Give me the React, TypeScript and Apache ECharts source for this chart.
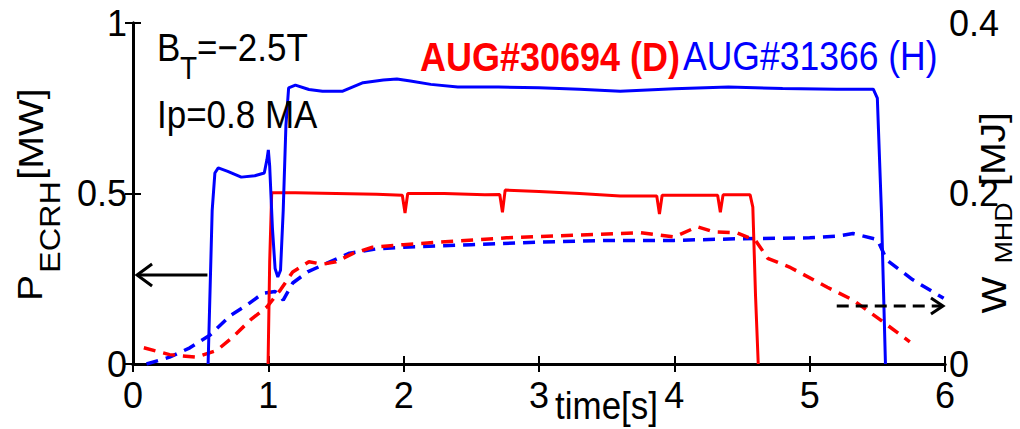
import React, { useEffect, useRef } from "react";
import * as echarts from "echarts";

// ECRH power, AUG#31366 (H) [MW]
const hPowerT = [0.555, 0.585, 0.605, 0.63, 0.7, 0.8, 0.9, 0.97, 0.99, 1.0, 1.01, 1.03, 1.05, 1.07, 1.09, 1.11, 1.13, 1.15, 1.2, 1.3, 1.4, 1.55, 1.7, 1.85, 1.95, 2.05, 2.2, 2.4, 2.7, 3.0, 3.3, 3.6, 4.0, 4.4, 4.8, 5.2, 5.47, 5.5, 5.53, 5.56];
const hPowerV = [0, 0.45, 0.56, 0.575, 0.565, 0.548, 0.552, 0.56, 0.6, 0.628, 0.58, 0.4, 0.28, 0.255, 0.275, 0.45, 0.7, 0.81, 0.818, 0.805, 0.8, 0.8, 0.825, 0.833, 0.836, 0.83, 0.82, 0.812, 0.812, 0.81, 0.806, 0.8, 0.807, 0.812, 0.808, 0.806, 0.806, 0.78, 0.45, 0];

// ECRH power, AUG#30694 (D) [MW]
const dPowerT = [0.998, 1.01, 1.025, 1.2, 1.5, 1.8, 1.99, 2.01, 2.03, 2.3, 2.6, 2.71, 2.73, 2.75, 3.0, 3.3, 3.6, 3.87, 3.89, 3.91, 4.1, 4.32, 4.34, 4.36, 4.5, 4.56, 4.58, 4.6, 4.62];
const dPowerV = [0, 0.3, 0.502, 0.502, 0.5, 0.498, 0.495, 0.443, 0.5, 0.5, 0.496, 0.497, 0.445, 0.51, 0.506, 0.5, 0.493, 0.493, 0.44, 0.495, 0.495, 0.495, 0.445, 0.496, 0.496, 0.496, 0.46, 0.2, 0];

// W_MHD, AUG#30694 (D) [MJ]
const dWT = [0.08, 0.27, 0.47, 0.62, 0.74, 0.87, 0.99, 1.09, 1.18, 1.3, 1.4, 1.5, 1.63, 1.77, 2.0, 2.27, 2.76, 3.25, 3.75, 4.0, 4.17, 4.29, 4.46, 4.6, 4.69, 4.86, 5.13, 5.32, 5.52, 5.74];
const dWV = [0.019, 0.011, 0.008, 0.016, 0.032, 0.052, 0.067, 0.087, 0.108, 0.12, 0.117, 0.12, 0.13, 0.137, 0.14, 0.143, 0.148, 0.151, 0.154, 0.149, 0.161, 0.155, 0.154, 0.145, 0.124, 0.113, 0.09, 0.075, 0.052, 0.026];

// W_MHD, AUG#31366 (H) [MJ]
const hWT = [0.1, 0.27, 0.42, 0.57, 0.72, 0.84, 0.96, 1.05, 1.11, 1.18, 1.29, 1.43, 1.6, 1.8, 2.0, 2.5, 3.0, 3.5, 4.0, 4.5, 5.0, 5.2, 5.32, 5.5, 5.57, 5.76, 5.99];
const hWV = [0.0, 0.008, 0.019, 0.034, 0.057, 0.069, 0.083, 0.085, 0.075, 0.095, 0.108, 0.118, 0.13, 0.135, 0.137, 0.14, 0.143, 0.145, 0.145, 0.147, 0.148, 0.15, 0.153, 0.146, 0.122, 0.099, 0.077];

// arrows: [x0, y0, x1(tip), y1]
const leftArrow = [0.55, 0.261, 0.03, 0.261]; // left axis units
const rightArrow = [5.2, 0.068, 5.985, 0.068]; // right axis units

const FONT = "'Liberation Sans', Arial, Helvetica, sans-serif";
const RED = "#ff0000";
const BLUE = "#0000ff";

const zip = (t: number[], v: number[]) => t.map((x, i) => [x, v[i]]);

export default function App() {
  const ref = useRef<HTMLDivElement>(null);
  useEffect(() => {
    const chart = echarts.init(ref.current!, null, { renderer: "svg" });
    const axisLine = { show: true, lineStyle: { color: "#000", width: 3 } };
    const tick = { show: true, inside: true, length: 8, lineStyle: { color: "#000", width: 2 } };
    const lbl = { color: "#000", fontSize: 36, fontFamily: FONT };
    chart.setOption({
      animation: false,
      backgroundColor: "#fff",
      grid: { left: 133, right: 75, top: 23, bottom: 65, containLabel: false },
      xAxis: [
        {
          type: "value", min: 0, max: 6, interval: 1, position: "bottom",
          axisLine, axisTick: tick, splitLine: { show: false },
          axisLabel: { ...lbl, margin: 13 },
        },
        {
          type: "value", min: 0, max: 6, interval: 1, position: "top",
          axisLine, axisTick: tick, splitLine: { show: false },
          axisLabel: { show: false },
        },
      ],
      yAxis: [
        {
          type: "value", min: 0, max: 1, interval: 0.5, position: "left",
          axisLine, axisTick: tick, splitLine: { show: false },
          axisLabel: { ...lbl, margin: 6 },
        },
        {
          type: "value", min: 0, max: 0.4, interval: 0.2, position: "right",
          axisLine, axisTick: tick, splitLine: { show: false },
          axisLabel: { ...lbl, margin: 4 },
        },
      ],
      series: [
        {
          name: "W_MHD H", type: "line", xAxisIndex: 0, yAxisIndex: 1, data: zip(hWT, hWV),
          symbol: "none", lineStyle: { color: BLUE, width: 3.5, type: [12, 8] }, z: 3,
        },
        {
          name: "W_MHD D", type: "line", xAxisIndex: 0, yAxisIndex: 1, data: zip(dWT, dWV),
          symbol: "none", lineStyle: { color: RED, width: 3.5, type: [12, 8] }, z: 4,
        },
        {
          name: "P_ECRH D", type: "line", xAxisIndex: 0, yAxisIndex: 0, data: zip(dPowerT, dPowerV),
          symbol: "none", lineStyle: { color: RED, width: 3 }, z: 5,
        },
        {
          name: "P_ECRH H", type: "line", xAxisIndex: 0, yAxisIndex: 0, data: zip(hPowerT, hPowerV),
          symbol: "none", lineStyle: { color: BLUE, width: 3 }, z: 6,
        },
      ],
    });

    const px = (x: number, y: number, yi: number) =>
      chart.convertToPixel({ xAxisIndex: 0, yAxisIndex: yi }, [x, y]) as number[];
    const la0 = px(leftArrow[0], leftArrow[1], 0);
    const la1 = px(leftArrow[2], leftArrow[3], 0);
    const ra0 = px(rightArrow[0], rightArrow[1], 1);
    const ra1 = px(rightArrow[2], rightArrow[3], 1);

    const SY = 1.12;
    const txt = (text: string, x: number, y: number, opts: any = {}) => ({
      type: "text", x, y, scaleX: opts.scaleX ?? 1, scaleY: opts.scaleY ?? SY,
      rotation: opts.rotation ?? 0, z: 50,
      style: {
        text, fill: opts.fill ?? "#000", fontSize: opts.fontSize ?? 35,
        fontFamily: FONT, fontWeight: opts.fontWeight ?? "normal",
        align: opts.align ?? "left", verticalAlign: "middle",
      },
    });
    const rot = Math.PI / 2;

    chart.setOption({
      graphic: [
        txt("B", 157, 47),
        txt("T", 180, 68, { fontSize: 28 }),
        txt("=\u22122.5T", 197, 47),
        txt("Ip=0.8 MA", 157, 114),
        txt("AUG#30694 (D)", 420, 57, { fill: RED, fontWeight: "bold", fontSize: 36 }),
        txt("AUG#31366 (H)", 683, 56, { fill: BLUE, fontSize: 35.5 }),
        txt("time[s]", 555, 405),
        // left axis name
        txt("P", 30, 288, { rotation: rot, align: "center", scaleX: SY, scaleY: 1 }),
        txt("ECRH", 50, 227, { rotation: rot, align: "center", scaleX: SY, scaleY: 1, fontSize: 29 }),
        txt("[MW]", 31, 134, { rotation: rot, align: "center", scaleX: SY, scaleY: 1 }),
        // right axis name
        txt("W", 994, 295, { rotation: rot, align: "center", scaleX: SY, scaleY: 1 }),
        txt("MHD", 1004, 233, { rotation: rot, align: "center", scaleX: SY, scaleY: 1, fontSize: 24 }),
        txt("[MJ]", 993, 149, { rotation: rot, align: "center", scaleX: SY, scaleY: 1 }),
        // arrows
        {
          type: "line", z: 40,
          shape: { x1: la0[0], y1: la0[1], x2: la1[0], y2: la1[1] },
          style: { stroke: "#000", lineWidth: 3 },
        },
        {
          type: "polyline", z: 40,
          shape: { points: [[la1[0] + 15, la1[1] - 11], [la1[0], la1[1]], [la1[0] + 15, la1[1] + 11]] },
          style: { stroke: "#000", lineWidth: 3, fill: "none" },
        },
        {
          type: "line", z: 40,
          shape: { x1: ra0[0], y1: ra0[1], x2: ra1[0] - 2, y2: ra1[1] },
          style: { stroke: "#000", lineWidth: 3, lineDash: [12, 7] },
        },
        {
          type: "polyline", z: 40,
          shape: { points: [[ra1[0] - 12, ra1[1] - 8], [ra1[0], ra1[1]], [ra1[0] - 12, ra1[1] + 8]] },
          style: { stroke: "#000", lineWidth: 3, fill: "none" },
        },
      ],
    });
    return () => chart.dispose();
  }, []);
  return <div ref={ref} style={{ position: "fixed", left: 0, top: 0, width: 1020, height: 429 }} />;
}
